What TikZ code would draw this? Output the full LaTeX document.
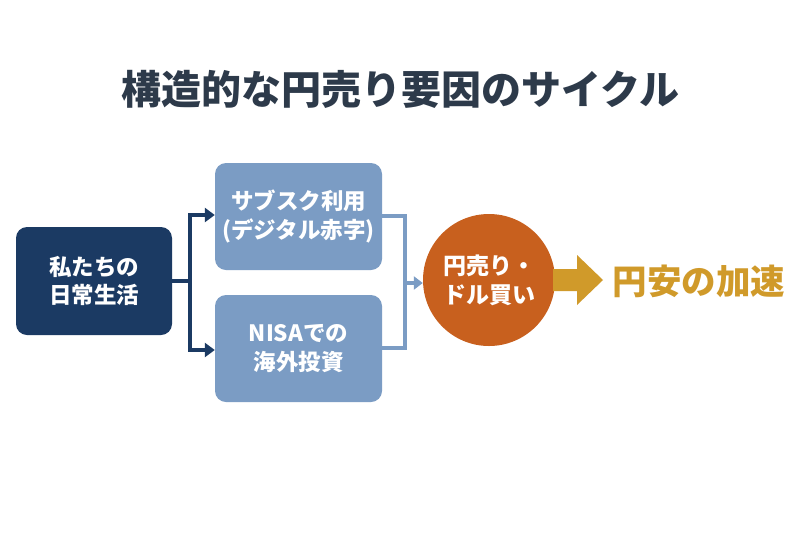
\documentclass[tikz,border=0pt]{standalone}
\usepackage{fontspec}
\newfontfamily\cjk{Noto Sans CJK JP}
\usetikzlibrary{arrows.meta}
\definecolor{navy}{HTML}{1B3A63}
\definecolor{steel}{HTML}{7B9CC4}
\definecolor{rust}{HTML}{C8601E}
\definecolor{gold}{HTML}{D09A2A}
\definecolor{titlec}{HTML}{2D3A4A}
\begin{document}
\begin{tikzpicture}[x=1pt,y=-1pt,
  box/.style={rounded corners=11pt, inner sep=0pt, align=center, text=white,
    font=\cjk\bfseries\fontsize{22.5}{28.5}\selectfont},
  navyline/.style={navy, line width=4.5pt, -{Triangle[length=10pt,width=14pt]}},
  steelline/.style={steel, line width=3.5pt},
]
\useasboundingbox[fill=white] (0,0) rectangle (800,536);
\node[font=\cjk\bfseries\fontsize{40}{46}\selectfont, text=titlec] (title) at (400,89) {構造的な円売り要因のサイクル};
\node[box, fill=navy, minimum width=156pt, minimum height=108pt] (life) at (94,281) {私たちの\\日常生活};
\node[box, fill=steel, minimum width=167pt, minimum height=107pt] (sub) at (298.5,216.5) {サブスク利用\\(デジタル赤字)};
\node[box, fill=steel, minimum width=167pt, minimum height=107pt] (nisa) at (298.5,348.5) {NISAでの\\海外投資};
\node[circle, fill=rust, minimum size=132pt, inner sep=0pt, align=center, text=white,
  font=\cjk\bfseries\fontsize{23}{29}\selectfont] (sell) at (489,280) {円売り・\\ドル買い};
\coordinate (bigstart) at (553,280);
\fill[gold] (bigstart) ++(0,-11) -- ++(24,0) -- ++(0,-14) -- ++(26,25) -- ++(-26,25) -- ++(0,-14) -- ++(-24,0) -- cycle;
\node[font=\cjk\bfseries\fontsize{34.5}{40}\selectfont, text=gold, anchor=west] (yen) at (609,281) {円安の加速};
\coordinate (split) at (190,281);
\draw[navy, line width=4.5pt] (life.east) -- (split);
\draw[navyline] (split) -- (190,215) -- (sub.west |- 0,215);
\draw[navyline] (split) -- (190,350) -- (nisa.west |- 0,350);
\coordinate (join) at (405,283);
\draw[steelline, line join=miter] (sub.east |- 0,216) -- (405,216) -- (405,348) -- (nisa.east |- 0,348);
\draw[steelline, -{Triangle[length=9pt,width=13pt]}] (join) -- (sell.west |- 0,283);
\end{tikzpicture}
\end{document}
